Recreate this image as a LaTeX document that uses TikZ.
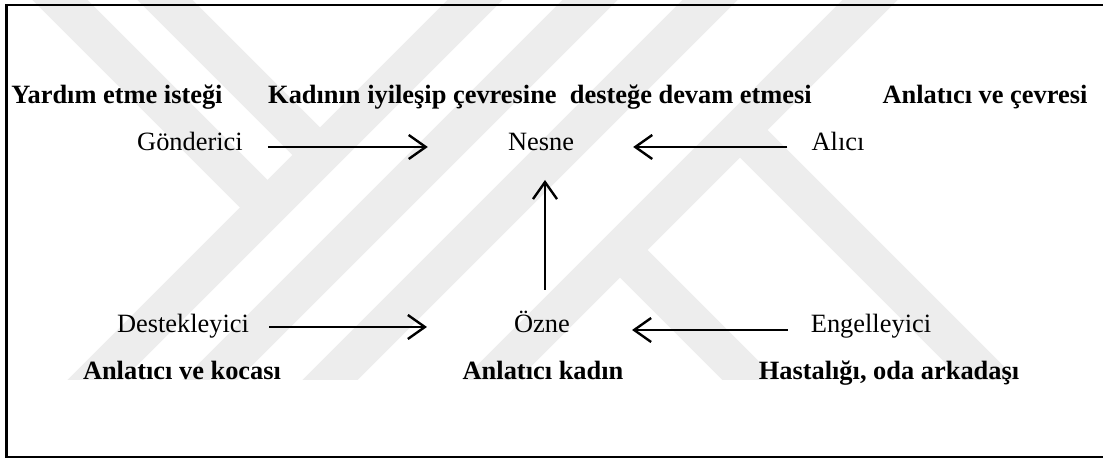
\documentclass[tikz,border=0pt]{standalone}
\usepackage{fontspec}
\setmainfont{Liberation Serif}
\usepackage{tikz}
\usetikzlibrary{arrows.meta}

\tikzset{
    rol/.style={inner sep=0pt, anchor=base, font=\fontsize{26.4}{30}\selectfont},
    aciklama/.style={inner sep=0pt, anchor=base, font=\fontsize{26.4}{30}\selectfont\bfseries},
    ok/.style={line width=2.4pt, -{Straight Barb[length=17pt,width=24pt]}},
    filigran/.style={line width=39pt, black!7}
}

\begin{document}
\begin{tikzpicture}[x=1pt,y=1pt]
    		\useasboundingbox (0,0) rectangle (1103,462);
    		
    		% silik filigran
    		\begin{scope}[shift={(0,462)}, yscale=-1]
    		\clip (0,0) rectangle (1103,380);
    		\foreach \x in {475,590,710,870} \draw[filigran] (\x+30,-30) -- (\x-420,420);
    		\draw[filigran] (30,-30) -- (265,205);
    		\draw[filigran] (135,-30) -- (317,152);
    		\draw[filigran] (740,130) -- (1030,420);
    		\draw[filigran] (620,250) -- (800,430);
    		\end{scope}
    		
    		\draw[line width=2.5pt] (1120,457) -- (6.5,457) -- (6.5,5) -- (1120,5);
    		
    		\node (yar)[aciklama] at (117,358) {Yardım etme isteği};
    		\node (kad)[aciklama] at (540,358) {Kadının iyileşip çevresine\ \ desteğe devam etmesi};
    		\node (anc)[aciklama] at (985,358) {Anlatıcı ve çevresi};
    		
        	\node (gon)[rol] at (190,311) {Gönderici};
        	\node (nes)[rol] at (541,311) {Nesne};
        	\node (ali)[rol] at (838,311) {Alıcı};
        	
        	\node (des)[rol] at (183,129) {Destekleyici};
        	\node (ozn)[rol] at (542,129) {Özne};
        	\node (eng)[rol] at (871,129) {Engelleyici};
        	
        	\node (ank)[aciklama] at (182,82) {Anlatıcı ve kocası};
        	\node (ankd)[aciklama] at (543,82) {Anlatıcı kadın};
        	\node (has)[aciklama] at (889,82) {Hastalığı, oda arkadaşı};
        	
        	\draw[ok] ([xshift=25pt,yshift=4pt]gon.base east) -- ([xshift=-80pt,yshift=4pt]nes.base west);
        	\draw[ok] ([xshift=-24pt,yshift=4pt]ali.base west) -- ([xshift=59pt,yshift=4pt]nes.base east);
        	
        	\draw[ok] ([xshift=20pt,yshift=6pt]des.base east) -- ([xshift=-87pt,yshift=6pt]ozn.base west);
        	\draw[ok] ([xshift=-23pt,yshift=3pt]eng.base west) -- ([xshift=62pt,yshift=3pt]ozn.base east);
        	
        	\draw[ok] ([xshift=3pt,yshift=43pt]ozn.base) -- ([xshift=4pt,yshift=-29pt]nes.base);
\end{tikzpicture}
\end{document}
